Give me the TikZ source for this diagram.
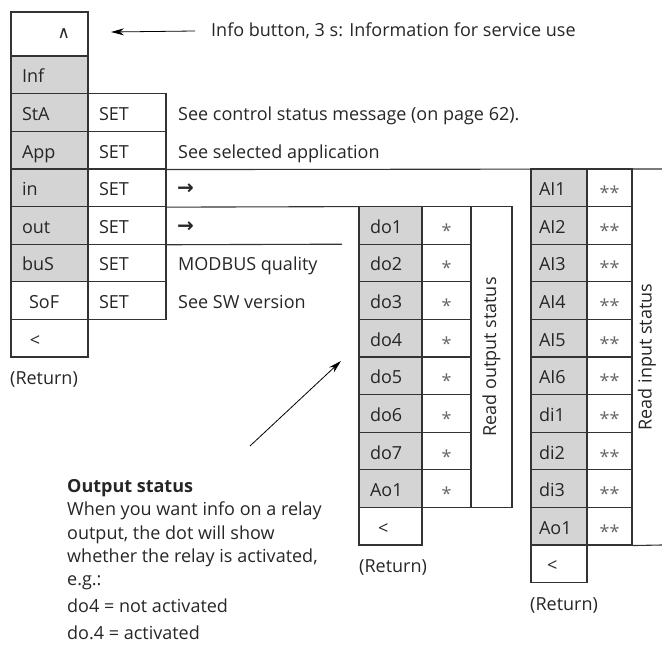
\documentclass[tikz,border=0pt]{standalone}
\usepackage{fontspec}
\setmainfont{Open Sans}
\newfontfamily\symf{DejaVu Sans}
\usetikzlibrary{arrows.meta,positioning}
\newcommand{\rowy}[1]{56.2+37.6*(#1-0.5)}

\begin{document}
\begin{tikzpicture}[x=1pt,y=-1pt,>={Stealth[length=13pt,width=7pt]},
  font=\fontsize{18}{22.5}\selectfont,
  every node/.append style={text=black!85},
  rule/.style={draw=black!80,line width=1.1pt},
  cell/.style={rule,minimum height=37.6pt,inner sep=0pt,text height=17pt,text depth=1pt},
  lkey/.style={cell,fill=black!17,text width=55pt,inner xsep=11pt,align=left},
  lplain/.style={lkey,fill=white},
  setcell/.style={cell,text width=56pt,inner xsep=11pt,align=left},
  okey/.style={cell,fill=black!17,text width=41pt,inner xsep=11pt,align=left},
  ostar/.style={cell,minimum width=49pt,text=black!60},
  ikey/.style={cell,fill=black!17,text width=40pt,inner xsep=8pt,align=left},
  istar/.style={cell,minimum width=45pt,text=black!60},
  desc/.style={anchor=base west,inner sep=0pt},
  side/.style={rotate=90,inner sep=0pt}]
\useasboundingbox (0,0) rectangle (662,655);
% info button
\node[rule,minimum width=77pt,minimum height=44pt,text width=41pt,inner xsep=17pt,inner ysep=0pt,align=right] (up) at (49.5,34) {\fontsize{17}{18}\symf ∧};
\node[anchor=west,inner sep=0pt] (info) at (211,31) {Info button, 3 s: Information for service use};
\coordinate (infotip) at (111,32);
\draw[->,line width=0.8pt] ([xshift=-16pt]info.west) -- (infotip);
% main menu
\foreach \t [count=\r] in {Inf,StA,App,in,out,buS}
  \node[lkey] (m\r) at (49.5,{\rowy{\r}}) {\t};
\node[lplain] (m7) at (49.5,{\rowy{7}}) {\hspace*{7pt}SoF};
\node[lplain] (m8) at (49.5,{\rowy{8}}) {\hspace*{8pt}<};
\foreach \r in {2,...,7}
  \node[setcell] (s\r) at (127,{\rowy{\r}}) {SET};
\node[desc] (d2) at (178,{\rowy{2}+8}) {See control status message (on page 62).};
\node[desc] (d3) at (178,{\rowy{3}+8}) {See selected application};
\node[desc] (d4) at (177,{\rowy{4}+7}) {\fontsize{20}{20}\symf\bfseries →};
\node[desc] (d5) at (177,{\rowy{5}+7}) {\fontsize{20}{20}\symf\bfseries →};
\node[desc] (d6) at (178,{\rowy{6}+8}) {MODBUS quality};
\node[desc] (d7) at (178,{\rowy{7}+8}) {See SW version};
\node[anchor=west,inner sep=0pt] (lret) at (10,379) {(Return)};
\draw[rule] (s3.south east) -- (662,169);
\draw[rule] (s4.south east) -- (359,206.6);
\draw[rule] (s5.south east) -- (342,244.2);
% output status table
\foreach \t [count=\i] in {do1,do2,do3,do4,do5,do6,do7,Ao1} {
  \node[okey] (o\i) at (390.5,{\rowy{\i+4}}) {\t};
  \node[ostar] (os\i) at (446.5,{\rowy{\i+4}}) {\raisebox{-4pt}{*}};
}
\node[okey,fill=white] (oback) at (390.5,{\rowy{13}}) {\hspace*{8pt}<};
\node[rule,side,minimum width=300.8pt,minimum height=41pt] (olbl) at (491.5,357) {Read output status};
\node[anchor=west,inner sep=0pt] (oret) at (359,567) {(Return)};
% input status table
\foreach \t [count=\i] in {AI1,AI2,AI3,AI4,AI5,AI6,di1,di2,di3,Ao1} {
  \node[ikey] (a\i) at (559,{\rowy{\i+3}}) {\t};
  \node[istar] (as\i) at (609.5,{\rowy{\i+3}}) {\raisebox{-4pt}{**}};
}
\node[ikey,fill=white] (aback) at (559,{\rowy{14}}) {\hspace*{8pt}<};
\draw[rule] (as10.south east) -- (662,545);
\node[side] (ilbl) at (647,357) {Read input status};
\node[anchor=west,inner sep=0pt] (aret) at (530,605) {(Return)};
% output status note
\coordinate (otail) at (250,446);
\coordinate (otip) at (341,361);
\draw[->,line width=0.8pt] (otail) -- (otip);
\node[anchor=north west,align=left,inner sep=0pt,font=\fontsize{18}{23.4}\selectfont] (note) at (67,479)
  {\textbf{Output status}\\
   When you want info on a relay\\
   output, the dot will show\\
   whether the relay is activated,\\
   e.g.:\\[3pt]
   do4 = not activated\\[4pt]
   do.4 = activated};
\end{tikzpicture}
\end{document}
